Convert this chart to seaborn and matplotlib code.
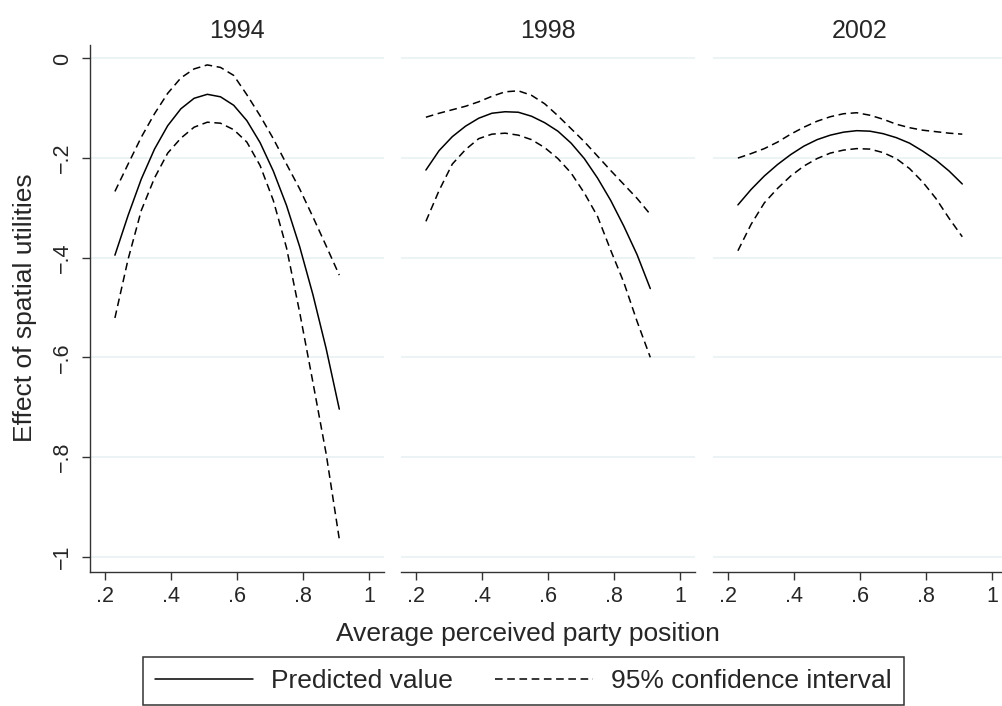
import numpy as np
import pandas as pd
import matplotlib
matplotlib.use('Agg')
import matplotlib.pyplot as plt
import seaborn as sns
from matplotlib.lines import Line2D

# ------------------------------------------------------- #
#                          DATOS                          #
# ------------------------------------------------------- #
years = ['1994', '1998', '2002']
position = [0.23, 0.27, 0.31, 0.35, 0.39, 0.43, 0.47, 0.51, 0.55,
            0.59, 0.63, 0.67, 0.71, 0.75, 0.79, 0.83, 0.87, 0.91]

pred_1994 = [-0.395, -0.315, -0.242, -0.182, -0.135, -0.101, -0.080, -0.072, -0.077,
             -0.094, -0.125, -0.169, -0.226, -0.295, -0.378, -0.474, -0.582, -0.704]
upper_1994 = [-0.267, -0.212, -0.158, -0.111, -0.070, -0.039, -0.021, -0.013, -0.018,
              -0.034, -0.073, -0.115, -0.161, -0.212, -0.262, -0.318, -0.376, -0.435]
lower_1994 = [-0.521, -0.403, -0.305, -0.240, -0.190, -0.160, -0.138, -0.128, -0.130,
              -0.143, -0.168, -0.215, -0.285, -0.380, -0.510, -0.650, -0.793, -0.965]

pred_1998 = [-0.224, -0.185, -0.157, -0.136, -0.120, -0.110, -0.107, -0.108, -0.116,
             -0.129, -0.146, -0.170, -0.201, -0.240, -0.285, -0.337, -0.394, -0.462]
upper_1998 = [-0.118, -0.110, -0.103, -0.096, -0.087, -0.076, -0.067, -0.065, -0.074,
              -0.091, -0.115, -0.141, -0.167, -0.196, -0.225, -0.253, -0.281, -0.313]
lower_1998 = [-0.327, -0.265, -0.212, -0.183, -0.161, -0.152, -0.150, -0.154, -0.163,
              -0.179, -0.201, -0.230, -0.270, -0.317, -0.385, -0.450, -0.528, -0.600]

pred_2002 = [-0.294, -0.263, -0.236, -0.213, -0.193, -0.176, -0.163, -0.154, -0.148,
             -0.145, -0.146, -0.151, -0.159, -0.170, -0.186, -0.204, -0.226, -0.252]
upper_2002 = [-0.200, -0.191, -0.181, -0.168, -0.152, -0.138, -0.126, -0.117, -0.111,
              -0.109, -0.114, -0.122, -0.132, -0.139, -0.144, -0.147, -0.150, -0.152]
lower_2002 = [-0.386, -0.333, -0.290, -0.261, -0.236, -0.216, -0.201, -0.190, -0.184,
              -0.181, -0.182, -0.189, -0.201, -0.221, -0.248, -0.281, -0.321, -0.358]

x_ticks = [0.2, 0.4, 0.6, 0.8, 1.0]
x_tick_labels = ['.2', '.4', '.6', '.8', '1']
y_ticks = [0, -0.2, -0.4, -0.6, -0.8, -1.0]
y_tick_labels = ['0', '\u2212.2', '\u2212.4', '\u2212.6', '\u2212.8', '\u22121']

series = {
    '1994': (pred_1994, upper_1994, lower_1994),
    '1998': (pred_1998, upper_1998, lower_1998),
    '2002': (pred_2002, upper_2002, lower_2002),
}

rows = []
for yr in years:
    for name, vals in zip(['pred', 'upper', 'lower'], series[yr]):
        for xv, yv in zip(position, vals):
            rows.append({'year': yr, 'curve': name, 'x': xv, 'y': yv})
df = pd.DataFrame(rows)

# ------------------------------------------------------- #
#                      VISUALIZACIÓN                      #
# ------------------------------------------------------- #
sns.set_style('white')
plt.rcParams['font.family'] = ['Liberation Sans', 'DejaVu Sans']

W, H = 1003, 706
fig = plt.figure(figsize=(W / 100, H / 100), dpi=100)
lefts = [90, 401, 713]
axis_col = '#333333'

for i, yr in enumerate(years):
    ax = fig.add_axes([lefts[i] / W, 1 - 572 / H, 294 / W, 527 / H])
    sub = df[df['year'] == yr]
    for name in ['pred', 'upper', 'lower']:
        d = sub[sub['curve'] == name]
        if name == 'pred':
            sns.lineplot(data=d, x='x', y='y', ax=ax, color='black', lw=1.1,
                         estimator=None, sort=False)
        else:
            sns.lineplot(data=d, x='x', y='y', ax=ax, color='black', lw=1.1,
                         estimator=None, sort=False, dashes=False)
            ax.lines[-1].set_dashes((5, 3))

    ax.set_xlim(0.1545, 1.0455)
    ax.set_ylim(-1.031, 0.027)
    ax.set_xticks(x_ticks)
    ax.set_xticklabels(x_tick_labels)
    ax.set_yticks(y_ticks)
    ax.set_xlabel('')
    ax.set_ylabel('')
    ax.yaxis.grid(True, color='#eaf2f3', lw=1.3)
    ax.xaxis.grid(False)
    ax.set_axisbelow(True)
    for s in ['top', 'right']:
        ax.spines[s].set_visible(False)
    ax.spines['bottom'].set_color(axis_col)
    ax.spines['bottom'].set_linewidth(1.0)
    ax.tick_params(axis='x', length=6, width=1.0, color=axis_col,
                   labelsize=15.5, pad=4, bottom=True)
    if i == 0:
        ax.spines['left'].set_color(axis_col)
        ax.spines['left'].set_linewidth(1.0)
        ax.set_yticklabels(y_tick_labels, rotation=90, va='center')
        ax.tick_params(axis='y', length=6, width=1.0, color=axis_col,
                       labelsize=15.5, pad=6, left=True)
    else:
        ax.spines['left'].set_visible(False)
        ax.tick_params(axis='y', left=False, labelleft=False)
    ax.set_title(yr, fontsize=18, pad=5)

fig.text(25 / W, 1 - 308 / H, 'Effect of spatial utilities', rotation=90,
         ha='center', va='center', fontsize=19)
fig.text(528 / W, 1 - 641 / H, 'Average perceived party position',
         ha='center', va='baseline', fontsize=19)

handles = [Line2D([], [], color='black', lw=1.1),
           Line2D([], [], color='black', lw=1.1, dashes=(5, 3))]
leg = fig.legend(handles, ['Predicted value', '95% confidence interval'],
                 loc='upper left', bbox_to_anchor=(143 / W, 1 - 657 / H),
                 ncol=2, fontsize=19, handlelength=3.73, handletextpad=0.68,
                 columnspacing=1.58, borderpad=0.45, borderaxespad=0,
                 frameon=True, fancybox=False, edgecolor=axis_col, framealpha=1)
leg.get_frame().set_linewidth(1.1)

fig.savefig('out.png', dpi=100)
